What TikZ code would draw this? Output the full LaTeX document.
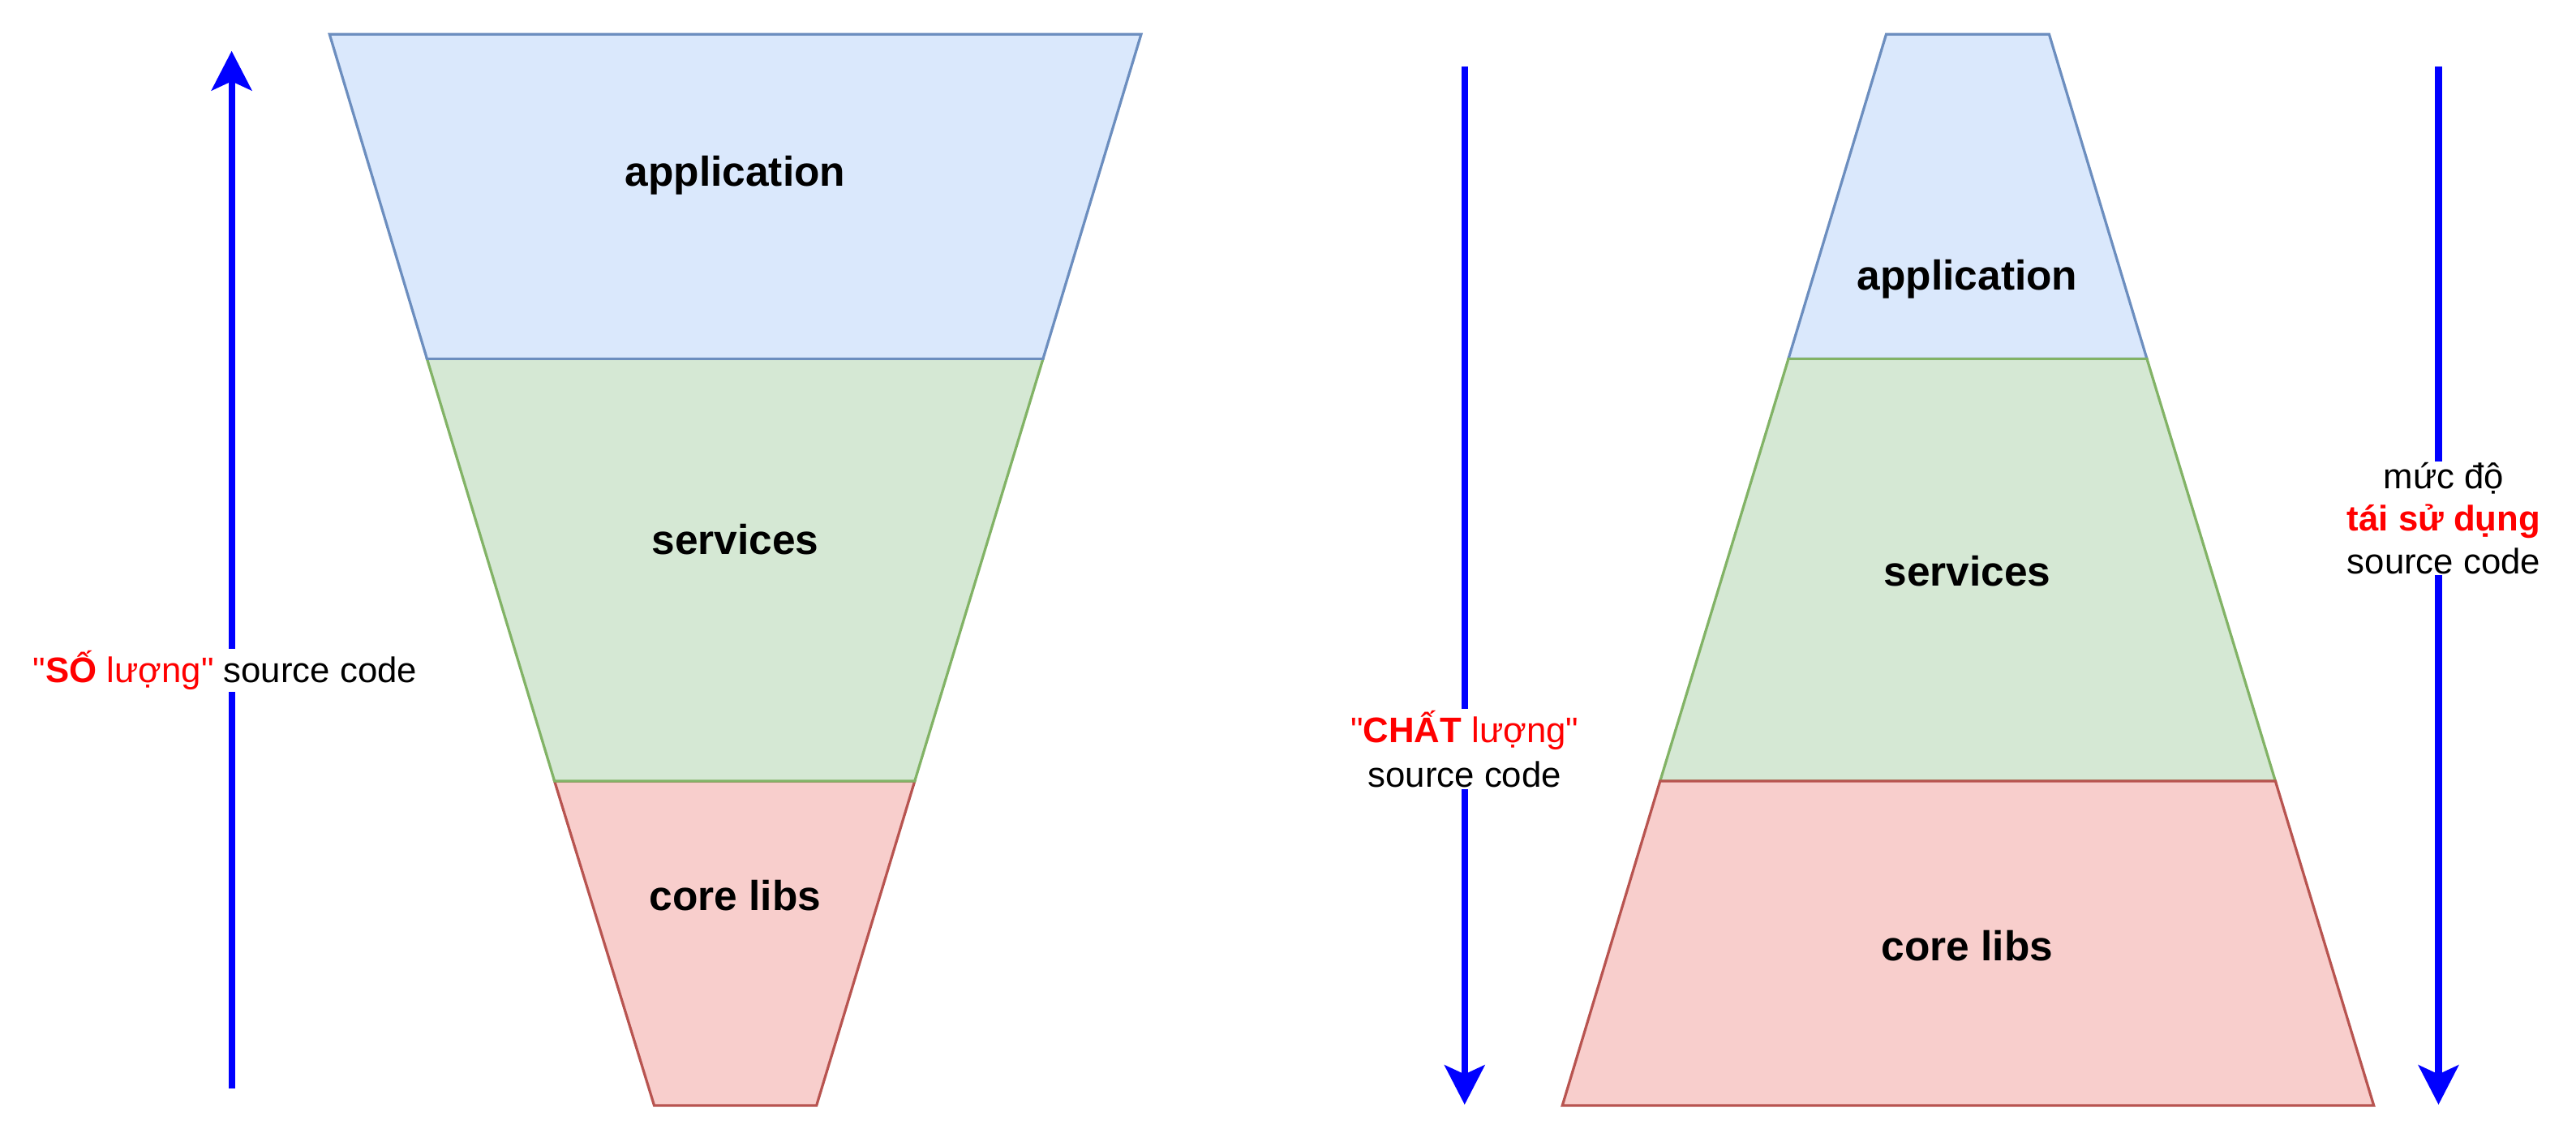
\documentclass[tikz,border=0pt]{standalone}
\usepackage{fontspec}
\setmainfont{Liberation Sans}
\usetikzlibrary{arrows.meta}
\definecolor{bluefill}{HTML}{DAE8FC}
\definecolor{bluestroke}{HTML}{6C8EBF}
\definecolor{greenfill}{HTML}{D5E8D4}
\definecolor{greenstroke}{HTML}{82B366}
\definecolor{redfill}{HTML}{F8CECC}
\definecolor{redstroke}{HTML}{B85450}
\definecolor{arrowblue}{HTML}{0000FF}
\definecolor{txtred}{HTML}{FF0000}
\begin{document}
\begin{tikzpicture}[x=1pt,y=-1pt,
  layer/.style={line width=1.6pt, line join=miter},
  bluelayer/.style={layer, fill=bluefill, draw=bluestroke},
  greenlayer/.style={layer, fill=greenfill, draw=greenstroke},
  redlayer/.style={layer, fill=redfill, draw=redstroke},
  lbl/.style={font=\bfseries\fontsize{25.4}{30}\selectfont, inner sep=0pt},
  flow/.style={draw=arrowblue, line width=4pt, -{Stealth[length=24pt,width=24.4pt,inset=5.5pt]}},
  note/.style={fill=white, inner sep=1pt, align=center}]
\useasboundingbox (0,0) rectangle (1568,695.1);

% ---------- left funnel (red, green, blue order) ----------
\draw[redlayer] (337.5,475.4) -- (556.8,475.4) -- (497.0,672.9) -- (398.2,672.9) -- cycle;
\draw[greenlayer] (259.9,218.4) -- (634.9,218.4) -- (556.8,475.4) -- (337.5,475.4) -- cycle;
\draw[bluelayer] (200.6,20.9) -- (694.6,20.9) -- (634.9,218.4) -- (259.9,218.4) -- cycle;
\node[lbl] (lapp) at (447.5,106.5) {application};
\node[lbl] (lsrv) at (447.5,328.4) {services};
\node[lbl] (lcore) at (447.5,545) {core libs};

% ---------- right pyramid (blue, green, red order) ----------
\draw[bluelayer] (1148.1,20.9) -- (1247.3,20.9) -- (1306.8,218.4) -- (1088.6,218.4) -- cycle;
\draw[greenlayer] (1088.6,218.4) -- (1306.8,218.4) -- (1385.0,475.4) -- (1010.5,475.4) -- cycle;
\draw[redlayer] (1010.5,475.4) -- (1385.0,475.4) -- (1444.9,672.9) -- (951.0,672.9) -- cycle;
\node[lbl] (rapp) at (1197.5,170) {application};
\node[lbl] (rsrv) at (1197.5,347.5) {services};
\node[lbl] (rcore) at (1197.5,575.7) {core libs};

% ---------- arrows ----------
\coordinate (qa) at (141,662.7);
\coordinate (qb) at (141,31);
\draw[flow] (qa) -- (qb);
\coordinate (ca) at (891.5,40.4);
\coordinate (cb) at (891.5,672.4);
\draw[flow] (ca) -- (cb);
\coordinate (ra) at (1484.3,40.4);
\coordinate (rb) at (1484.3,672.4);
\draw[flow] (ra) -- (rb);

% ---------- arrow labels ----------
\node[note, font=\fontsize{21.6}{27.5}\selectfont] (qlbl) at (137,408)
  {{\color{txtred}\textquotedbl\textbf{SỐ} lượng\textquotedbl} source code};
\node[note, font=\fontsize{21.6}{27.5}\selectfont] (clbl) at (891.5,456)
  {{\color{txtred}\textquotedbl\textbf{CHẤT} lượng\textquotedbl}\\source code};
\node[note, font=\fontsize{21.6}{25.7}\selectfont] (rlbl) at (1487.5,315.5)
  {mức độ\\{\color{txtred}\textbf{tái sử dụng}}\\source code};
\end{tikzpicture}
\end{document}
